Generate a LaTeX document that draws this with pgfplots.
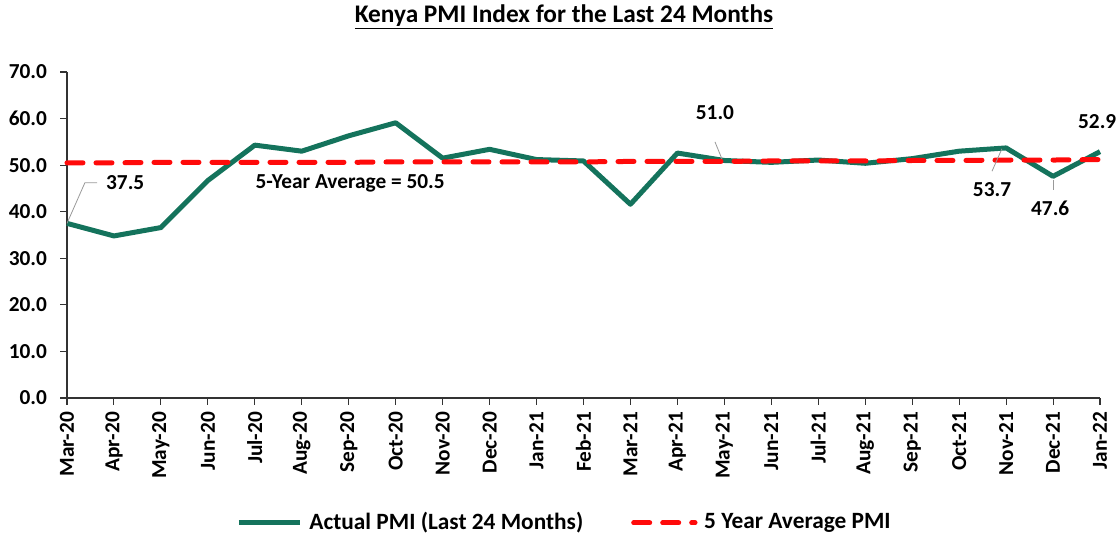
\documentclass[border=0pt]{standalone}
\usepackage{fontspec}
\setmainfont{Carlito}
\usepackage{pgfplots}
\pgfplotsset{compat=1.18}
\definecolor{pmigreen}{RGB}{20,115,92}
\definecolor{avgred}{RGB}{255,10,10}
\begin{document}
\fontsize{16}{19}\selectfont\bfseries
\begin{tikzpicture}
\path[use as bounding box] (-50.25pt,-106.5pt) rectangle (788.25pt,298.5pt);
\begin{axis}[
  at={(0pt,0pt)}, anchor=south west,
  scale only axis, width=774.75pt, height=244.5pt,
  xmin=0, xmax=22, ymin=0, ymax=70,
  axis lines=left, axis line style={black!80, line width=0.8pt, -},
  clip=false,
  xtick={0,...,22},
  xticklabels={Mar-20,Apr-20,May-20,Jun-20,Jul-20,Aug-20,Sep-20,Oct-20,Nov-20,Dec-20,Jan-21,Feb-21,Mar-21,Apr-21,May-21,Jun-21,Jul-21,Aug-21,Sep-21,Oct-21,Nov-21,Dec-21,Jan-22},
  x tick label style={rotate=90, anchor=east, font=\fontsize{16}{19}\selectfont\bfseries},
  ytick={0,10,...,70},
  y tick label style={font=\fontsize{16}{19}\selectfont\bfseries, xshift=-4.5pt},
  yticklabel style={/pgf/number format/.cd, fixed, fixed zerofill, precision=1, assume math mode=true},
  tick align=outside, major tick length=5pt,
  tick style={black!80, line width=0.8pt},
  legend style={at={(0.482,-0.383)}, anchor=center, draw=none, fill=none,
    legend columns=2, font=\fontsize{17.5}{20}\selectfont\bfseries,
    /tikz/every even column/.append style={column sep=34pt}},
  legend image code/.code={\draw[#1] (0pt,0pt) -- (46pt,0pt);},
  legend cell align=left,
]
\addplot[pmigreen, line width=3.75pt, line join=round] coordinates {
(0,37.5)(1,34.8)(2,36.6)(3,46.7)(4,54.3)(5,53.0)(6,56.3)(7,59.1)(8,51.5)(9,53.4)(10,51.2)(11,50.9)(12,41.6)(13,52.6)(14,51.0)(15,50.6)(16,51.1)(17,50.4)(18,51.4)(19,53.0)(20,53.7)(21,47.6)(22,52.9)};
\addlegendentry{\hspace{3pt}Actual PMI (Last 24 Months)}
\addplot[avgred, line width=3.75pt, line cap=round, dash pattern=on 12pt off 9.75pt] coordinates {
(0,50.5)(1,50.5)(2,50.6)(3,50.6)(4,50.6)(5,50.6)(6,50.6)(7,50.7)(8,50.7)(9,50.7)(10,50.7)(11,50.7)(12,50.8)(13,50.8)(14,50.8)(15,50.9)(16,50.9)(17,50.9)(18,51.0)(19,51.0)(20,51.1)(21,51.1)(22,51.2)};
\addlegendentry{\hspace{3pt}5 Year Average PMI}
\draw[black!40, line width=0.6pt] (axis cs:0,37.5) -- (axis cs:0.38,46.2) -- (axis cs:0.64,46.2);
\node at (axis cs:1.24,46.2) {37.5};
\node at (axis cs:6.03,46.0) {5-Year Average = 50.5};
\draw[black!40, line width=0.6pt] (axis cs:13.8,55.0) -- (axis cs:13.95,51.3);
\node at (axis cs:13.8,61.2) {51.0};
\draw[black!40, line width=0.6pt] (axis cs:19.7,48.7) -- (axis cs:19.91,53.5);
\node at (axis cs:19.7,44.7) {53.7};
\draw[black!40, line width=0.6pt] (axis cs:21,46.9) -- (axis cs:21,44.6);
\node at (axis cs:20.94,40.8) {47.6};
\node at (axis cs:21.94,59.3) {52.9};
\end{axis}
\node at (372.75pt,285.75pt) {\fontsize{19}{22}\selectfont\underline{Kenya PMI Index for the Last 24 Months}};
\end{tikzpicture}
\end{document}
